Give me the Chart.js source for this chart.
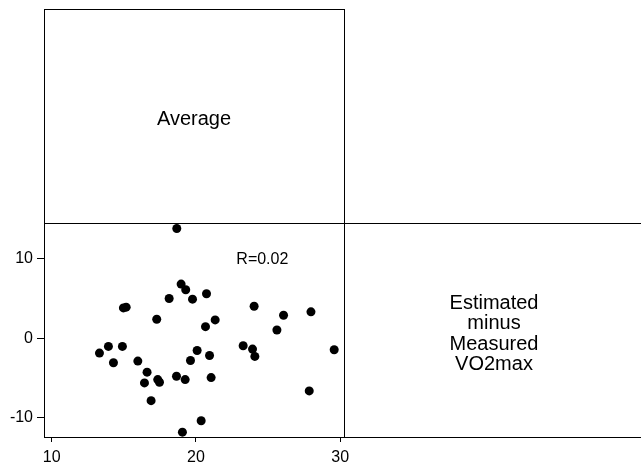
<!DOCTYPE html>
<html>
<head>
<meta charset="utf-8">
<script src="https://cdn.jsdelivr.net/npm/chart.js@4/dist/chart.umd.min.js"></script>
<style>
  html, body { margin: 0; padding: 0; background: #fff; }
  #wrap { width: 641px; height: 468px; }
</style>
</head>
<body>
<div id="wrap"><canvas id="grafico"></canvas></div>
<script>
// --- Datos ---
// Promedio (eje x)
const promedio = [
  18.67, 18.97, 19.29, 18.14, 19.76, 20.73, 14.97, 15.16, 17.28, 21.33,
  20.66, 24.03, 26.07, 27.97, 25.61, 13.31, 13.93, 14.28, 14.90, 15.97,
  16.61, 16.43, 17.35, 17.47, 16.89, 18.65, 19.25, 19.62, 20.08, 20.94,
  21.05, 20.36, 19.06, 23.27, 23.92, 24.08, 29.58, 27.85
];
// Estimado menos medido (eje y)
const diferencia = [
  13.81, 6.82, 6.11, 5.01, 4.93, 5.60, 3.83, 3.92, 2.40, 2.32,
  1.47, 4.04, 2.91, 3.33, 1.05, -1.85, -1.01, -3.07, -1.01, -2.86,
  -4.25, -5.60, -5.18, -5.52, -7.83, -4.76, -5.18, -2.78, -1.52, -2.15,
  -4.93, -10.36, -11.79, -0.93, -1.35, -2.27, -1.43, -6.61
];
const ticksX = [10, 20, 30];
const ticksY = [-10, 0, 10];
const etiquetaX = 'Average';
const etiquetaY = ['Estimated', 'minus', 'Measured', 'VO2max'];
const textoR = 'R=0.02';
const posR = [24.6, 10]; // posición del texto R en unidades de datos

const FUENTE = '"Liberation Sans", Arial, sans-serif';

// Plugin para dibujar las celdas de la matriz y los textos
const matrizPlugin = {
  id: 'matriz',
  afterDraw(chart) {
    const { ctx, chartArea: a, scales } = chart;
    const w = a.right - a.left;
    const h = a.bottom - a.top;
    ctx.save();
    ctx.strokeStyle = '#000';
    ctx.lineWidth = 1;
    // celda del gráfico de dispersión
    ctx.strokeRect(a.left + 0.5, a.top + 0.5, w, h);
    // celda superior (Average)
    ctx.strokeRect(a.left + 0.5, a.top - h + 0.5, w, h);
    // celda derecha (Estimated minus...)
    ctx.strokeRect(a.right + 0.5, a.top + 0.5, w, h);

    ctx.fillStyle = '#000';
    ctx.textAlign = 'center';
    ctx.textBaseline = 'middle';
    ctx.font = '20px ' + FUENTE;
    ctx.fillText(etiquetaX, a.left + w / 2, a.top - h / 2 + 3);

    const interlinea = 20.5;
    const cy = a.top + h / 2 + 4 - interlinea * (etiquetaY.length - 1) / 2;
    etiquetaY.forEach((t, i) => {
      ctx.fillText(t, a.right + w / 2, cy + i * interlinea);
    });

    ctx.font = '16px ' + FUENTE;
    ctx.fillText(textoR, scales.x.getPixelForValue(posR[0]), scales.y.getPixelForValue(posR[1]) + 1);
    ctx.restore();
  }
};

const ctx = document.getElementById('grafico').getContext('2d');
new Chart(ctx, {
  type: 'scatter',
  data: {
    datasets: [{
      data: promedio.map((x, i) => ({ x: x, y: diferencia[i] })),
      backgroundColor: '#000',
      borderWidth: 0,
      pointRadius: 4.5,
      pointHoverRadius: 4.5
    }]
  },
  options: {
    responsive: true,
    maintainAspectRatio: false,
    animation: false,
    layout: { padding: { top: 223, right: 297, left: 0, bottom: 0 } },
    plugins: {
      legend: { display: false },
      tooltip: { enabled: false }
    },
    scales: {
      x: {
        type: 'linear',
        min: 9.466,
        max: 30.26,
        afterBuildTicks: s => { s.ticks = ticksX.map(v => ({ value: v })); },
        afterFit: s => { s.height = 31; },
        border: { display: false },
        grid: { drawOnChartArea: false, drawTicks: true, tickLength: 5, color: '#000' },
        ticks: { color: '#000', font: { family: FUENTE, size: 16 }, padding: 6, maxRotation: 0 }
      },
      y: {
        type: 'linear',
        min: -12.4,
        max: 14.5,
        afterBuildTicks: s => { s.ticks = ticksY.map(v => ({ value: v })); },
        afterFit: s => { s.width = 44; },
        border: { display: false },
        grid: { drawOnChartArea: false, drawTicks: true, tickLength: 7, color: '#000' },
        ticks: { color: '#000', font: { family: FUENTE, size: 16 }, padding: 4 }
      }
    }
  },
  plugins: [matrizPlugin]
});
</script>
</body>
</html>
